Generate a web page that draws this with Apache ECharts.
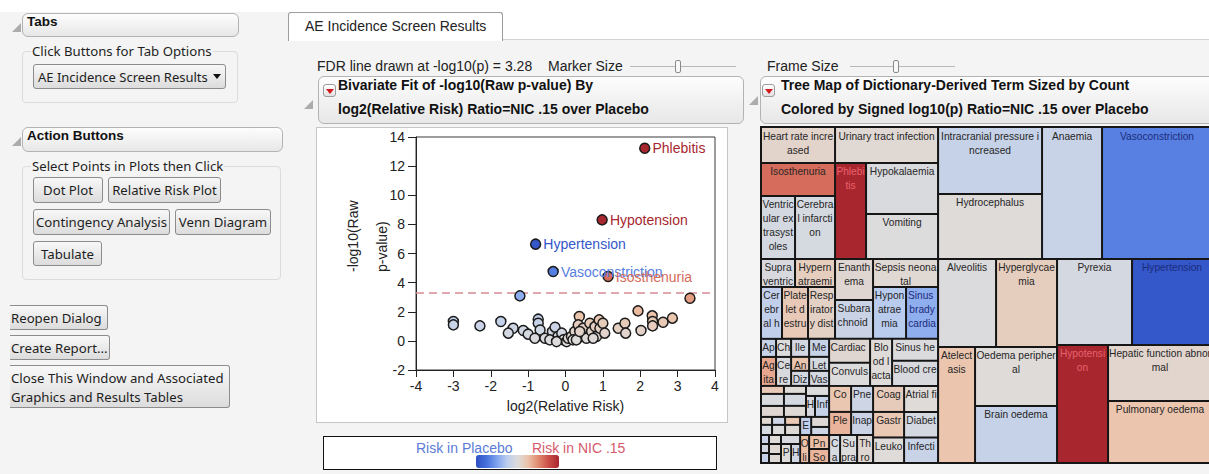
<!DOCTYPE html>
<html>
<head>
<meta charset="utf-8">
<title>AE Incidence Screen Results</title>
<script src="https://cdn.jsdelivr.net/npm/echarts@6.0.0/dist/echarts.min.js"></script>
<style>
  html, body { margin:0; padding:0; }
  body { width:1209px; height:474px; overflow:hidden; position:relative; background:#f4f4f4;
         font-family:"Noto Sans","Open Sans",sans-serif; color:#1e1e1e; }
  .a { position:absolute; box-sizing:border-box; white-space:nowrap; }
  .hdr { border:1px solid #b3b3b3; border-radius:6px; background:linear-gradient(#fdfdfd,#e7e7e7); }
  .bold { font-family:"Liberation Sans",Arial,sans-serif; font-weight:bold; font-size:13.5px; line-height:16px; color:#111; }
  .grp { border:1px solid #dcdcdc; border-radius:4px; }
  .glabel { background:#f4f4f4; padding:0 1px; font-size:13.2px; line-height:16px; }
  .btn { border:1px solid #8c8c8c; border-radius:3px; background:linear-gradient(#f8f8f8,#dcdcdc);
         font-size:13.2px; line-height:16px; padding:4px 0 0 0; text-align:center; }
  .btnl { text-align:left; border-left:none; padding-left:1px; border-radius:0 3px 3px 0; }
  .tri { width:0; height:0; border-left:9px solid transparent; border-bottom:9px solid #acacac; }
  .jmp { font-family:"Liberation Sans",Arial,sans-serif; font-size:14px; line-height:16px; color:#222; }
  .jb { font-family:"Liberation Sans",Arial,sans-serif; font-weight:bold; font-size:14px; line-height:16px; color:#111; }
  .ricon { width:13px; height:13px; border:1px solid #9c9c9c; border-radius:3px; background:linear-gradient(#ffffff,#e2e2e2); }
  .ricon:after { content:""; position:absolute; left:2px; top:4px; width:0; height:0;
         border-left:4px solid transparent; border-right:4px solid transparent; border-top:5px solid #d2191e; }
  .sl { height:1px; background:#b9b9b9; }
  .thumb { width:6px; height:13px; border:1px solid #8a8a8a; border-radius:2px; background:#f9f9f9; }
  #chart { position:absolute; left:0; top:0; width:1209px; height:474px; z-index:2; }
  .top { z-index:3; }
</style>
</head>
<body>
<!-- top white band -->
<div class="a" style="left:0;top:0;width:1209px;height:12px;background:#ffffff;"></div>
<div class="a" style="left:503px;top:0;width:706px;height:40px;background:#ffffff;border-bottom:1px solid #d2d2d2;"></div>

<!-- LEFT PANEL -->
<div class="a tri" style="left:12px;top:23px;"></div>
<div class="a hdr" style="left:22px;top:13px;width:217px;height:24px;"></div>
<div class="a bold" style="left:27px;top:14px;">Tabs</div>

<div class="a grp" style="left:22px;top:51px;width:216px;height:52px;"></div>
<div class="a glabel" style="left:31px;top:43px;">Click Buttons for Tab Options</div>
<div class="a btn" style="left:33px;top:64px;width:193px;height:25px;text-align:left;padding-left:4px;font-size:13px;">AE Incidence Screen Results</div>
<div class="a" style="left:213px;top:74px;width:0;height:0;border-left:4px solid transparent;border-right:4px solid transparent;border-top:5px solid #111;"></div>

<div class="a tri" style="left:12px;top:137px;"></div>
<div class="a hdr" style="left:22px;top:127px;width:261px;height:25px;"></div>
<div class="a bold" style="left:27px;top:128px;">Action Buttons</div>

<div class="a grp" style="left:22px;top:166px;width:259px;height:114px;"></div>
<div class="a glabel" style="left:31px;top:158px;">Select Points in Plots then Click</div>
<div class="a btn" style="left:33px;top:177px;width:70px;height:26px;">Dot Plot</div>
<div class="a btn" style="left:108px;top:177px;width:113px;height:26px;">Relative Risk Plot</div>
<div class="a btn" style="left:33px;top:209px;width:137px;height:26px;">Contingency Analysis</div>
<div class="a btn" style="left:175px;top:209px;width:96px;height:26px;">Venn Diagram</div>
<div class="a btn" style="left:33px;top:241px;width:69px;height:25px;">Tabulate</div>

<div class="a btn btnl" style="left:10px;top:305px;width:98px;height:25px;">Reopen Dialog</div>
<div class="a btn btnl" style="left:10px;top:335px;width:100px;height:25px;">Create Report...</div>
<div class="a btn btnl" style="left:10px;top:365px;width:220px;height:43px;padding-top:3px;line-height:19px;">Close This Window and Associated<br>Graphics and Results Tables</div>

<!-- TAB -->
<div class="a" style="left:288px;top:12px;width:215px;height:29px;background:#ffffff;border:1px solid #9d9d9d;border-bottom:none;border-radius:3px 3px 0 0;"></div>
<div class="a jmp" style="left:305px;top:18px;">AE Incidence Screen Results</div>

<!-- controls row -->
<div class="a jmp" style="left:317px;top:58px;">FDR line drawn at -log10(p) = 3.28</div>
<div class="a jmp" style="left:548px;top:58px;">Marker Size</div>
<div class="a sl" style="left:630px;top:66px;width:106px;"></div>
<div class="a thumb" style="left:675px;top:60px;"></div>
<div class="a jmp" style="left:767px;top:58px;">Frame Size</div>
<div class="a sl" style="left:850px;top:66px;width:105px;"></div>
<div class="a thumb" style="left:893px;top:60px;"></div>

<!-- outline headers -->
<div class="a tri" style="left:304px;top:100px;"></div>
<div class="a hdr" style="left:318px;top:76px;width:426px;height:48px;"></div>
<div class="a ricon" style="left:323px;top:84px;"></div>
<div class="a jb" style="left:338px;top:77px;">Bivariate Fit of -log10(Raw p-value) By</div>
<div class="a jb" style="left:338px;top:101px;">log2(Relative Risk) Ratio=NIC .15 over Placebo</div>

<div class="a tri" style="left:749px;top:96px;"></div>
<div class="a hdr" style="left:760px;top:76px;width:460px;height:48px;"></div>
<div class="a ricon" style="left:762px;top:84px;"></div>
<div class="a jb" style="left:781px;top:77px;">Tree Map of Dictionary-Derived Term Sized by Count</div>
<div class="a jb" style="left:781px;top:101px;">Colored by Signed log10(p) Ratio=NIC .15 over Placebo</div>

<!-- scatter panel frame and legend box -->
<div class="a" style="left:316px;top:127px;width:412px;height:296px;background:#ffffff;border:1px solid #c6c6c6;"></div>
<div class="a" style="left:323px;top:436px;width:394px;height:34px;background:#ffffff;border:1px solid #111;"></div>
<div class="a jmp top" style="left:416px;top:440px;color:#5a7bd6;">Risk in Placebo</div>
<div class="a jmp top" style="left:532px;top:440px;color:#d65a6c;">Risk in NIC .15</div>

<div id="chart"></div>

<script>
// ---------------- scatter (volcano) data ----------------
const xTicks = [-4, -3, -2, -1, 0, 1, 2, 3, 4];
const yTicks = [-2, 0, 2, 4, 6, 8, 10, 12, 14];
const fdrLine = 3.28;
const riskX = [-1.22, 3.33, -3.00, -3.00, -2.29, -1.73, -1.40, -1.53, -1.13, -1.00, -0.73, -0.73, -0.68, -0.82, -0.55,
               -0.35, -0.28, -0.20, -0.10, -0.06, 0.03, 0.07, 0.16, 0.25, 0.37, 0.34, 0.47, 0.43, 0.56, 0.65,
               0.70, 0.79, 0.83, 0.90, 0.92, 1.00, 1.05, 1.41, 1.59, 1.61, 1.94, 2.02, 2.32, 2.33, 2.33,
               2.61, 2.86, -0.42, -0.24, 0.20, 0.29, 0.38, 0.74,
               2.12, 0.98, -0.80, -0.33, 1.14];
const pValY = [3.09, 2.93, 1.33, 1.10, 1.03, 1.33, 0.87, 0.53, 0.71, 0.46, 1.49, 1.21, 0.75, 0.18, 0.18,
               0.64, 0.94, 0.30, 0.53, 0.07, -0.05, 0.18, 0.30, 0.64, 1.67, 1.10, 0.87, 0.30, 0.18, 1.21,
               0.64, 0.98, 0.30, 1.44, 0.87, 1.21, 0.53, 0.87, 1.21, 0.53, 2.06, 0.71, 1.72, 1.33, 1.03,
               1.28, 1.56, 0.07, -0.05, 0.07, 0.07, 0.64, 0.18,
               13.23, 8.31, 6.64, 4.76, 4.42];
const pointNames = riskX.map(function () { return ''; });
pointNames[53] = 'Phlebitis';
pointNames[54] = 'Hypotension';
pointNames[55] = 'Hypertension';
pointNames[56] = 'Vasoconstriction';
pointNames[57] = 'Isosthenuria';

// ---------------- tree map data ----------------
const tmNames = [
  'Heart rate increased', 'Isosthenuria', 'Ventricular extrasystoles', 'Cerebral infarction',
  'Urinary tract infection', 'Phlebitis', 'Hypokalaemia', 'Vomiting',
  'Supraventricular extrasystoles', 'Hypernatraemia', 'Cerebral haemorrhage', 'Platelet destruction increased',
  'Respiratory distress', 'Enanthema', 'Subarachnoid haemorrhage', 'Sepsis neonatal', 'Hyponatraemia', 'Sinus bradycardia',
  'Apnoea', 'Chills', 'Agitation', 'Cerebral vasospasm', 'Ileus', 'Meningitis', 'Anxiety', 'Dizziness', 'Lethargy', 'Vasospasm',
  'Hypomagnesaemia', 'Tachycardia', 'Nausea', 'Constipation', 'Bradycardia', 'Delirium', 'Rash', 'Hypocalcaemia', 'Infusion site reaction',
  'Pruritus', 'Headache', 'Dysphagia', 'Tremor', 'Hypoxia', 'Hypoalbuminaemia', 'Hyperkalaemia', 'Hypophosphataemia', 'Insomnia',
  'Cough', 'Diarrhoea', 'Hypotonia', 'Pain', 'Encephalopathy', 'Fatigue', 'Hiccups', 'Oliguria', 'Pneumothorax', 'Somnolence',
  'Cardiac failure', 'Convulsion', 'Blood lactate increased', 'Sinus headache', 'Blood creatinine increased',
  'Coma', 'Pneumonia', 'Pleural effusion', 'Inappropriate antidiuretic hormone secretion', 'Cardiac arrest',
  'Supraventricular tachycardia', 'Thrombocytopenia', 'Coagulopathy', 'Atrial fibrillation',
  'Gastrointestinal haemorrhage', 'Leukocytosis', 'Diabetes insipidus', 'Infection',
  'Intracranial pressure increased', 'Hydrocephalus', 'Anaemia', 'Vasoconstriction',
  'Alveolitis', 'Hyperglycaemia', 'Atelectasis', 'Oedema peripheral', 'Brain oedema',
  'Pyrexia', 'Hypertension', 'Hypotension', 'Hepatic function abnormal', 'Pulmonary oedema',
  'Vertigo', 'Hypertonia'
];
const tmCounts = [
  666, 611, 536, 630, 927, 744, 918, 810,
  238, 280, 273, 338, 351, 390, 370, 455, 429, 416,
  68, 68, 109, 109, 81, 90, 63, 68, 70, 75,
  46, 69, 63, 44, 66, 61, 58, 47, 74,
  22, 28, 26, 33, 30, 38, 18, 18, 20,
  27, 30, 43, 48, 50, 45, 36, 63, 70, 70,
  246, 236, 259, 253, 288,
  143, 143, 127, 127, 77, 119, 112, 202, 221, 198, 198, 217, 217,
  1742, 1690, 1980, 3630,
  1276, 1342, 1073, 1210, 1169,
  1613, 1720, 1505, 1456, 1612,
  27, 43
];
const tmSigned = [
  0.6, 4.4, -0.5, -0.4, 0.3, 13.2, -0.2, 0.0,
  -0.3, 1.0, -1.5, 1.3, 0.8, 0.4, -1.0, 0.3, -1.8, -3.0,
  -1.2, 0.0, 2.6, -0.2, -0.6, -1.2, 1.6, -0.6, -0.4, -0.5,
  1.3, -0.2, 0.4, 0.1, -0.5, 0.2, 0.0, -0.3, -1.2,
  0.3, -0.4, -0.8, 0.0, 1.4, 0.2, -1.0, -0.6, -1.3,
  0.1, 0.3, -0.3, 0.1, -1.5, 0.2, -0.8, 1.8, 1.8, 2.2,
  0.4, 0.0, 0.1, -0.1, -0.3,
  1.5, -0.8, 2.2, -1.0, -0.4, 0.0, 0.4, 1.2, 0.1, 1.4, 0.1, -0.5, -1.1,
  -1.2, 0.1, -1.1, -4.7,
  -0.1, 1.0, 1.6, 0.1, -1.2,
  -0.5, -6.6, 8.3, 0.5, 1.6,
  0.2, -0.7
];
// grouping of the terms (indices into the arrays above)
const tmTree = [
  [ // left column
    [[0, [1, [2, 3]]], [4, [5, [6, 7]]]],
    [
      [[[8, 9], [10, [11, 12]]], [[13, 14], [15, [16, 17]]]],
      [
        [[[[18, 19], [20, 21]], [[22, 23], [[24, 25], [26, 27]]]],
         [[[[28, [29, 30]], [31, [32, 33]]], [34, [35, 36]]],
          [[[[37, 38], [[39, 40], [41, 42]]], [[43, [44, 45]], [[46, [47, 88]], [48, [49, 89]]]]],
           [[50, [51, 52]], [53, [54, 55]]]]]],
        [[[56, 57], [58, [59, 60]]],
         [[[61, 62], [[63, 64], [65, [66, 67]]]], [[68, 69], [[70, 71], [72, 73]]]]]
      ]
    ]
  ],
  [ // right part
    [[74, 75], 76, 77],
    [[[78, 79], [80, [81, 82]]], [[83, 84], [85, [86, 87]]]]
  ]
];

// colour scale: Blue to Gray to Red (signed log10 p)
const colorScale = ['#2f50c4', '#4670dc', '#7da2ee', '#bccdee', '#dddcdc', '#ecc3aa', '#e08a70', '#cc4f48', '#a8262e'];
const scaleMin = -7, scaleMax = 7;

// ------------- build options -------------
const FONT = '"Liberation Sans", Arial, sans-serif';
const scatterData = riskX.map(function (x, i) {
  return { name: pointNames[i], value: [x, pValY[i], x < 0 ? -pValY[i] : pValY[i]] };
});

// treemap colour list padded so that the same mapping spans [-14, 14]
const padN = 4;
const tmColors = Array(padN).fill(colorScale[0]).concat(colorScale, Array(padN).fill(colorScale[colorScale.length - 1]));
function labelColor(v) {
  if (v >= 5) return '#e8616f';
  if (v <= -2.5) return '#1c2c7c';
  return '#262626';
}
function buildNode(t) {
  if (typeof t === 'number') {
    return { name: tmNames[t], value: [tmCounts[t], tmSigned[t]], label: { color: labelColor(tmSigned[t]) } };
  }
  const kids = t.map(buildNode);
  const total = kids.reduce(function (s, k) { return s + k.value[0]; }, 0);
  return { name: '', value: [total, 0], children: kids };
}
const levels = [];
for (let d = 0; d < 12; d++) {
  levels.push({
    color: tmColors, colorMappingBy: 'value', visualDimension: 1, visualMin: -14, visualMax: 14,
    itemStyle: { borderColor: '#161616', borderWidth: d === 0 ? 2 : 0, gapWidth: 2 }
  });
}

const chart = echarts.init(document.getElementById('chart'), null, { renderer: 'svg' });
chart.setOption({
  animation: false,
  backgroundColor: 'transparent',
  textStyle: { fontFamily: FONT },
  grid: { left: 416, top: 137, width: 299, height: 233, show: true, backgroundColor: '#ffffff', borderColor: '#3a3a3a', borderWidth: 1 },
  xAxis: {
    type: 'value', min: xTicks[0], max: xTicks[xTicks.length - 1], interval: xTicks[1] - xTicks[0],
    axisLine: { show: true, onZero: false, lineStyle: { color: '#222', width: 1 } },
    axisTick: { show: true, length: 7, lineStyle: { color: '#222' } },
    axisLabel: { fontSize: 14, color: '#222', margin: 9, fontFamily: FONT },
    splitLine: { show: false },
    name: 'log2(Relative Risk)', nameLocation: 'middle', nameGap: 29,
    nameTextStyle: { fontSize: 14, color: '#222', fontFamily: FONT }
  },
  yAxis: {
    type: 'value', min: yTicks[0], max: yTicks[yTicks.length - 1], interval: yTicks[1] - yTicks[0],
    axisLine: { show: true, onZero: false, lineStyle: { color: '#222', width: 1 } },
    axisTick: { show: true, length: 8, lineStyle: { color: '#222' } },
    axisLabel: { fontSize: 14, color: '#222', margin: 11, fontFamily: FONT },
    splitLine: { show: false }
  },
  visualMap: [{
    type: 'continuous', seriesIndex: 0, dimension: 2, min: scaleMin, max: scaleMax,
    inRange: { color: colorScale }, orient: 'horizontal', itemWidth: 13, itemHeight: 83,
    left: 471, top: 450, calculable: false, show: true, padding: 5, text: null
  }],
  graphic: [
    { type: 'text', x: 353, y: 272, rotation: Math.PI / 2, z: 10,
      style: { text: '-log10(Raw', font: '14px ' + FONT, fill: '#222', textAlign: 'left', textVerticalAlign: 'middle' } },
    { type: 'text', x: 382, y: 272, rotation: Math.PI / 2, z: 10,
      style: { text: 'p-value)', font: '14px ' + FONT, fill: '#222', textAlign: 'left', textVerticalAlign: 'middle' } }
  ],
  series: [
    {
      type: 'scatter', z: 3, symbolSize: 10, data: scatterData,
      itemStyle: { borderColor: '#1b1b1b', borderWidth: 1.5, opacity: 1 },
      label: { show: true, position: 'right', distance: 2, fontSize: 14, fontFamily: FONT, color: 'inherit',
               formatter: function (p) { return p.name; } },
      markLine: {
        silent: true, symbol: 'none', z: 1, label: { show: false },
        lineStyle: { color: '#d98c95', type: [8, 5], width: 1.6 },
        data: [{ yAxis: fdrLine }]
      }
    },
    {
      type: 'treemap', left: 760, top: 126, width: 453, height: 338,
      sort: false, squareRatio: 1, roam: false, nodeClick: false,
      breadcrumb: { show: false }, visibleMin: 0,
      label: { show: true, position: 'insideTop', distance: 0, overflow: 'breakAll', fontSize: 10.2,
               lineHeight: 14, fontFamily: FONT, color: '#262626', padding: [1, 0, -4, 0] },
      upperLabel: { show: false },
      levels: levels,
      data: tmTree.map(buildNode)
    }
  ]
});
</script>
</body>
</html>
